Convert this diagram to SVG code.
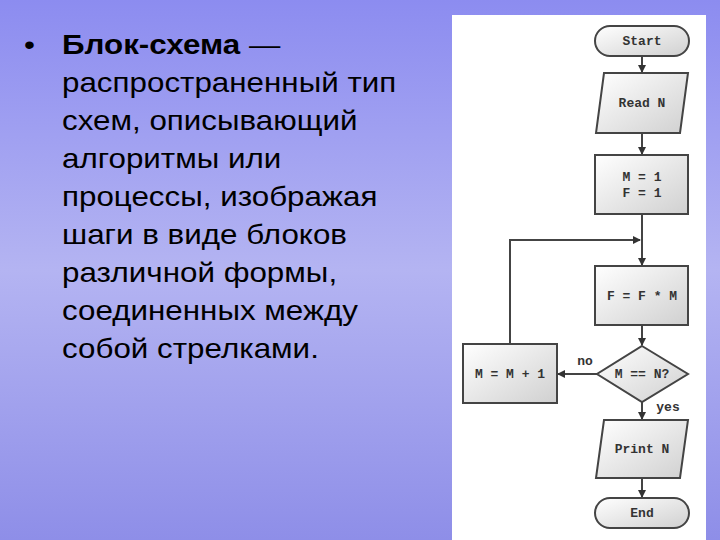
<svg xmlns="http://www.w3.org/2000/svg" width="720" height="540" viewBox="0 0 720 540">
<defs>
<linearGradient id="bg" x1="0" y1="0" x2="0" y2="1"><stop offset="0" stop-color="#8c8cf0"/><stop offset="0.5" stop-color="#b4b4f2"/><stop offset="1" stop-color="#8e8ee8"/></linearGradient>
<linearGradient id="nf" x1="0" y1="0" x2="1" y2="1"><stop offset="0" stop-color="#ffffff"/><stop offset="1" stop-color="#d0d0d0"/></linearGradient>
<marker id="ar" markerWidth="8" markerHeight="8" refX="7" refY="4" orient="auto" markerUnits="userSpaceOnUse"><path d="M0,0 L8,4 L0,8 Z" fill="#333"/></marker>
</defs>
<style>
.n{fill:url(#nf);stroke:#444;stroke-width:2}
.t{font-family:"Liberation Mono",monospace;font-size:13px;font-weight:bold;fill:#333;text-anchor:middle}
.c{fill:none;stroke:#444;stroke-width:2;marker-end:url(#ar)}
.p{font-family:"Liberation Sans",Arial,sans-serif;font-size:28px;fill:#000}
</style>
<rect width="720" height="540" fill="url(#bg)"/>
<rect x="452" y="15" width="254" height="525" fill="#fff"/>
<g id="text" transform="translate(62,0) scale(1.12,1) translate(-62,0)">
<text class="p" x="28" y="54">•</text>
<text class="p" x="62" y="54"><tspan font-weight="bold">Блок-схема</tspan> —</text>
<text class="p" x="62" y="92">распространенный тип</text>
<text class="p" x="62" y="130">схем, описывающий</text>
<text class="p" x="62" y="168">алгоритмы или</text>
<text class="p" x="62" y="206">процессы, изображая</text>
<text class="p" x="62" y="244">шаги в виде блоков</text>
<text class="p" x="62" y="282">различной формы,</text>
<text class="p" x="62" y="320">соединенных между</text>
<text class="p" x="62" y="358">собой стрелками.</text>
</g>
<g id="connectors">
<line class="c" x1="642" y1="56" x2="642" y2="72"/>
<line class="c" x1="642" y1="133" x2="642" y2="154"/>
<line class="c" x1="642" y1="214" x2="642" y2="265"/>
<polyline class="c" points="510,344 510,240 640,240"/>
<line class="c" x1="642" y1="325" x2="642" y2="345"/>
<line class="c" x1="597" y1="374" x2="558" y2="374"/>
<line class="c" x1="642" y1="402" x2="642" y2="419"/>
<line class="c" x1="642" y1="478" x2="642" y2="497"/>
<text x="585" y="365" class="t" font-weight="normal">no</text>
<text x="668" y="411" class="t" font-weight="normal">yes</text>
</g>
<g id="start"><rect class="n" x="595" y="26" width="94" height="30" rx="15"/><text class="t" x="642" y="45">Start</text></g>
<g id="read"><polygon class="n" points="604,73 688,73 680,133 596,133"/><text class="t" x="642" y="107">Read N</text></g>
<g id="init"><rect class="n" x="595" y="155" width="93" height="59"/><text class="t" x="642" y="181">M = 1</text><text class="t" x="642" y="197">F = 1</text></g>
<g id="mul"><rect class="n" x="595" y="266" width="93" height="59"/><text class="t" x="642" y="300">F = F * M</text></g>
<g id="cond"><polygon class="n" points="642,346 688,374 642,402 597,374"/><text class="t" x="642" y="378">M == N?</text></g>
<g id="inc"><rect class="n" x="463" y="344" width="94" height="59"/><text class="t" x="510" y="378">M = M + 1</text></g>
<g id="print"><polygon class="n" points="604,420 688,420 680,478 596,478"/><text class="t" x="642" y="453">Print N</text></g>
<g id="end"><rect class="n" x="595" y="498" width="94" height="30" rx="15"/><text class="t" x="642" y="517">End</text></g>
</svg>
